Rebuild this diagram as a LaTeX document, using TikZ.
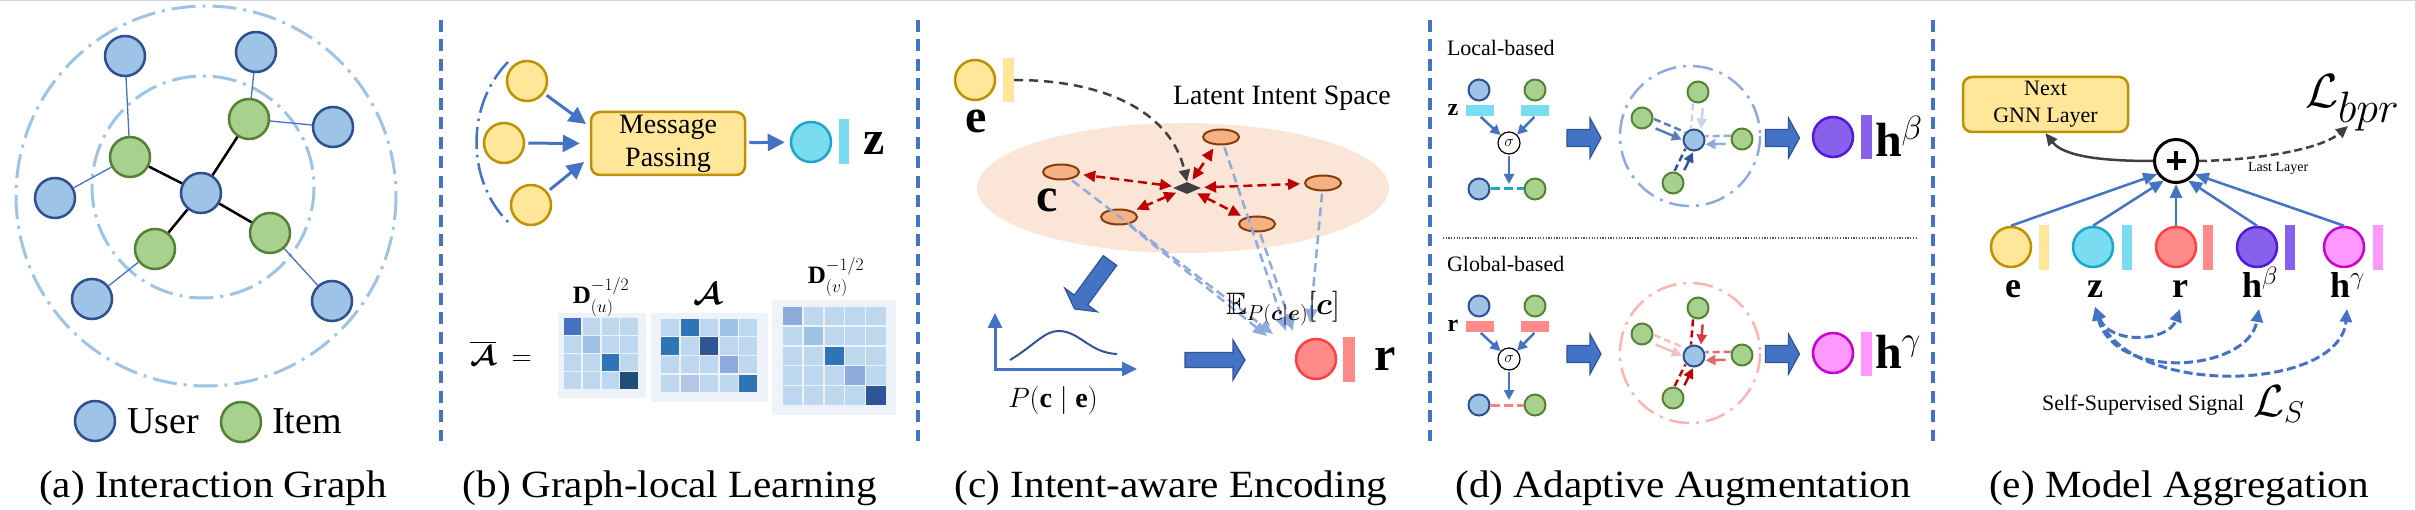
\RequirePackage{fix-cm}
\documentclass[tikz,border=0pt]{standalone}
\usepackage{fontspec}
\setmainfont{Liberation Serif}
\newfontfamily\tnr{Liberation Serif}
\usepackage{amsmath,amssymb,bm}
\usepackage{graphicx}
\usetikzlibrary{arrows.meta,shapes.geometric,calc}

\definecolor{bl}{HTML}{4472C4}
\definecolor{dbl}{HTML}{2F5597}
\definecolor{ufill}{HTML}{9DC3E6}
\definecolor{udraw}{HTML}{2F4F8F}
\definecolor{ifill}{HTML}{A9D18E}
\definecolor{idraw}{HTML}{538135}
\definecolor{yfill}{HTML}{FFE699}
\definecolor{ydraw}{HTML}{BF9000}
\definecolor{cfill}{HTML}{7ADCF0}
\definecolor{cdraw}{HTML}{1AA8C8}
\definecolor{rfill}{HTML}{FF8A8A}
\definecolor{rdraw}{HTML}{FF4040}
\definecolor{pfill}{HTML}{8860EC}
\definecolor{pdraw}{HTML}{4F1BD8}
\definecolor{mfill}{HTML}{FF99FF}
\definecolor{mdraw}{HTML}{CC00CC}
\definecolor{ringc}{HTML}{9DC3E6}
\definecolor{peach}{HTML}{FBE5D6}
\definecolor{intfill}{HTML}{F4B183}
\definecolor{ibrown}{HTML}{843C0C}
\definecolor{dred}{HTML}{C00000}
\definecolor{lbd}{HTML}{8FAADC}
\definecolor{dgray}{HTML}{404040}
\definecolor{mlight}{HTML}{BDD7EE}
\definecolor{mbg}{HTML}{EEF3FA}
\definecolor{mA}{HTML}{4472C4}
\definecolor{mB}{HTML}{9DC3E6}
\definecolor{mC}{HTML}{2E75B6}
\definecolor{mD}{HTML}{1F4E79}
\definecolor{mE}{HTML}{2F5597}
\definecolor{mF}{HTML}{8FAADC}
\definecolor{mG}{HTML}{B4C7E7}
\definecolor{pinkring}{HTML}{FFB3B3}
\definecolor{framegray}{HTML}{D6D6D6}
\definecolor{ltblue}{HTML}{C7D5EC}
\definecolor{mdblue}{HTML}{5B7DB8}
\definecolor{ltpink}{HTML}{F4BFBF}
\definecolor{mdred}{HTML}{E06A6A}
\definecolor{arred}{HTML}{D43D3D}
\definecolor{pinkline}{HTML}{FF8080}

\newcommand{\fsize}[1]{\tnr\fontsize{#1}{#1}\selectfont}
\newcommand{\bigbf}{\tnr\fontsize{48}{48}\selectfont\bfseries}
\newcommand{\captxt}[1]{\scalebox{1.07}[1]{\fsize{38.5}#1}}
% cx, cy, half length, head length, shaft half height, head half height
\newcommand{\blockarr}[6]{%
  \filldraw[fill=bl, draw=dbl, line width=1.2pt]
   (#1-#3,#2-#5) -- (#1+#3-#4,#2-#5) -- (#1+#3-#4,#2-#6) -- (#1+#3,#2)
   -- (#1+#3-#4,#2+#6) -- (#1+#3-#4,#2+#5) -- (#1-#3,#2+#5) -- cycle;}

\tikzset{
  nd/.style={circle, line width=2.5pt, minimum size=40pt, inner sep=0pt},
  user/.style={nd, draw=udraw, fill=ufill},
  item/.style={nd, draw=idraw, fill=ifill},
  yel/.style={nd, draw=ydraw, fill=yfill},
  cyn/.style={nd, draw=cdraw, fill=cfill},
  rdn/.style={nd, draw=rdraw, fill=rfill},
  ppn/.style={nd, draw=pdraw, fill=pfill},
  mgn/.style={nd, draw=mdraw, fill=mfill},
  suser/.style={user, minimum size=21pt, line width=2pt},
  sitem/.style={item, minimum size=21pt, line width=2pt},
  vbar/.style={rectangle, inner sep=0pt, minimum width=10pt, minimum height=44pt},
  hbar/.style={rectangle, inner sep=0pt, minimum width=28pt, minimum height=11pt},
  txt/.style={inner sep=0pt, outer sep=0pt},
  ybox/.style={rectangle, rounded corners=9pt, draw=ydraw, fill=yfill, line width=2.5pt, align=center, inner sep=0pt},
  ringline/.style={line width=3pt, dash pattern=on 24pt off 7pt on 3pt off 7pt},
  sepline/.style={draw=bl, line width=3.5pt, dash pattern=on 12pt off 7.5pt},
  thickarrow/.style={draw=bl, line width=3pt, -{Triangle[length=17pt,width=17pt]}},
  intent/.style={ellipse, draw=ibrown, fill=intfill, line width=2pt, minimum width=36pt, minimum height=15pt, inner sep=0pt},
  reddash/.style={draw=dred, line width=2.5pt, dash pattern=on 9pt off 5pt, {Triangle[length=12pt,width=11pt]}-{Triangle[length=12pt,width=11pt]}, shorten <=4pt, shorten >=4pt},
  lbdash/.style={draw=lbd, line width=2.5pt, dash pattern=on 9pt off 5pt, -{Triangle[length=14pt,width=12pt]}, shorten <=2pt},
  sig/.style={circle, draw=black, line width=1.2pt, fill=white, minimum size=22pt, inner sep=0pt, font=\fsize{16}},
  sarr/.style={draw=bl, line width=2.5pt, -{Triangle[length=10pt,width=10pt]}, shorten <=1pt},
  edash/.style={line width=2.5pt, dash pattern=on 7pt off 4pt},
  earr/.style={line width=2.5pt, -{Triangle[length=10pt,width=10pt]}, shorten <=5pt},
  plusn/.style={circle, draw=black, line width=3pt, fill=white, minimum size=43pt, inner sep=0pt,
    path picture={\draw[line width=3.5pt] ([xshift=-9.5pt]path picture bounding box.center) -- ([xshift=9.5pt]path picture bounding box.center);
                  \draw[line width=3.5pt] ([yshift=-9.5pt]path picture bounding box.center) -- ([yshift=9.5pt]path picture bounding box.center);}},
  aggarr/.style={draw=bl, line width=2.5pt, -{Triangle[length=14pt,width=12pt]}},
  ssarc/.style={draw=bl, line width=3pt, dash pattern=on 9pt off 4pt, {Triangle[length=13pt,width=12pt]}-{Triangle[length=13pt,width=12pt]}},
  dotsep/.style={draw=black!65, line width=1.2pt, dash pattern=on 1.2pt off 1.5pt}
}

\begin{document}
\begin{tikzpicture}[x=1pt,y=-1pt]
\useasboundingbox (0,0) rectangle (2416,510);
\draw[framegray, line width=1.5pt] (0,0.75) -- (2415.25,0.75) -- (2415.25,510);

% separators
\draw[sepline] (441,20) -- (441,441);
\draw[sepline] (918,20) -- (918,441);
\draw[sepline] (1430,20) -- (1430,441);
\draw[sepline] (1933,20) -- (1933,441);

% ---------------- (a) ----------------
\draw[ringline, draw=ringc] (206,196) circle[radius=190];
\draw[ringline, draw=ringc] (203,187) circle[radius=111];
\node[user] (a0) at (201,193) {};
\node[item] (i1) at (130,157) {};
\node[item] (i2) at (249,119) {};
\node[item] (i3) at (270,233) {};
\node[item] (i4) at (155,249) {};
\node[user] (u1) at (125,56) {};
\node[user] (u2) at (256,52) {};
\node[user] (u3) at (333,127) {};
\node[user] (u4) at (55,198) {};
\node[user] (u5) at (92,299) {};
\node[user] (u6) at (332,301) {};
\draw[line width=2.5pt] (a0) -- (i1) (a0) -- (i2) (a0) -- (i3) (a0) -- (i4);
\draw[bl, line width=1.3pt] (i1) -- (u1) (i1) -- (u4) (i2) -- (u2) (i2) -- (u3) (i3) -- (u6) (i4) -- (u5);
\node[user] (lu) at (95,421) {};
\node[txt, anchor=base west, font=\fsize{38}] (lut) at (127,433) {User};
\node[item] (li) at (241,422) {};
\node[txt, anchor=base west, font=\fsize{38}] (lit) at (272,433) {Item};
\node[txt, anchor=base] (capa) at (213,497) {\captxt{(a) Interaction Graph}};

% ---------------- (b) ----------------
\draw[bl, line width=2.5pt, dash pattern=on 22pt off 6pt on 2.5pt off 6pt] (508,62) .. controls (466,105) and (466,180) .. (508,222);
\node[yel] (y1) at (527,81) {};
\node[yel] (y2) at (504,143) {};
\node[yel] (y3) at (531,205) {};
\node[ybox, minimum width=154pt, minimum height=63pt, font=\tnr\fontsize{28}{33}\selectfont] (mp) at (668,143.5) {Message\\Passing};
\coordinate (mpa) at (586,124);
\coordinate (mpc) at (584,162);
\draw[thickarrow, shorten <=3pt] (y1) -- (mpa);
\draw[thickarrow, shorten <=3pt, shorten >=10pt] (y2) -- (mp.west);
\draw[thickarrow, shorten <=3pt] (y3) -- (mpc);
\node[cyn] (zn) at (811,142) {};
\draw[thickarrow, shorten <=3pt, shorten >=5pt] (mp) -- (zn);
\node[vbar, fill=cfill, minimum height=45pt] (zbar) at (844,141.5) {};
\node[txt, font=\bigbf] (zl) at (874,143) {z};

% matrices
\fill[mbg] (558,313) rectangle (646,398);
\foreach \row [count=\r from 0] in {{mA,mlight,mlight,mlight},{mlight,mB,mlight,mlight},{mlight,mlight,mC,mlight},{mlight,mlight,mlight,mD}}{
  \foreach \cc [count=\c from 0] in \row {
    \fill[\cc] (564+\c*18.75, 318+\r*18) rectangle ++(17.3,16.6);
  }
}
\fill[mbg] (651,313) rectangle (768,402);
\foreach \row [count=\r from 0] in {{mlight,mC,mlight,mB,mlight},{mC,mlight,mE,mlight,mlight},{mlight,mlight,mlight,mF,mlight},{mlight,mG,mlight,mlight,mC}}{
  \foreach \cc [count=\c from 0] in \row {
    \fill[\cc] (661+\c*19.5, 319+\r*18.5) rectangle ++(18,17);
  }
}
\fill[mbg] (772,300) rectangle (896,415);
\foreach \row [count=\r from 0] in {{mF,mlight,mlight,mlight,mlight},{mlight,mB,mlight,mlight,mlight},{mlight,mlight,mC,mlight,mlight},{mlight,mlight,mlight,mF,mlight},{mlight,mlight,mlight,mlight,mE}}{
  \foreach \cc [count=\c from 0] in \row {
    \fill[\cc] (783+\c*20.8, 307+\r*19.8) rectangle ++(19.3,18.3);
  }
}
\node[txt, font=\fsize{25}] (du) at (601,297) {$\mathbf{D}^{-1/2}_{(u)}$};
\node[txt, font=\fsize{31}] (am) at (708,294) {$\bm{\mathcal{A}}$};
\node[txt, font=\fsize{25}] (dv) at (836,277) {$\mathbf{D}^{-1/2}_{(v)}$};
\node[txt, font=\fsize{28}] (abar) at (501,353) {$\overline{\bm{\mathcal{A}}}\;=$};
\node[txt, anchor=base] (capb) at (670,497) {\captxt{(b) Graph-local Learning}};

% ---------------- (c) ----------------
\fill[peach] (1183,188) ellipse[x radius=206, y radius=65];
\node[yel] (en) at (975,80) {};
\node[vbar, fill=yfill, minimum width=11pt] (ebar) at (1008.5,80) {};
\node[txt, font=\bigbf] (el) at (976,121) {e};
\node[txt, anchor=base west, font=\fsize{28}] (lis) at (1173,105) {Latent Intent Space};
\node[intent] (c1) at (1061,172) {};
\node[intent] (c2) at (1221,137) {};
\node[intent] (c3) at (1323,183) {};
\node[intent] (c4) at (1119,217) {};
\node[intent] (c5) at (1257,224) {};
\node[diamond, fill=dgray, aspect=2.4, minimum width=28pt, minimum height=12pt, inner sep=0pt] (dia) at (1187,188) {};
\node[txt, font=\bigbf] (cl) at (1047,200) {c};
\draw[dgray, line width=2.5pt, dash pattern=on 9pt off 6pt, -{Triangle[length=12pt,width=11pt]}] (ebar.east) .. controls (1110,80) and (1172,115) .. (dia.north);
\draw[reddash] (dia) -- (c1);
\draw[reddash] (dia) -- (c2);
\draw[reddash] (dia) -- (c3);
\draw[reddash] (dia) -- (c4);
\draw[reddash] (dia) -- (c5);
\coordinate (ea1) at (1273,334);
\coordinate (ea4) at (1267,336);
\coordinate (ea2) at (1286,331);
\coordinate (ea5) at (1293,331);
\coordinate (ea3) at (1310,323);
\draw[lbdash] (c1) -- (ea1);
\draw[lbdash] (c4) -- (ea4);
\draw[lbdash] (c2) -- (ea2);
\draw[lbdash] (c5) -- (ea5);
\draw[lbdash] (c3) -- (ea3);
% block arrow down-left
\filldraw[fill=bl, draw=dbl, line width=1.2pt] (1116.7,265.4) -- (1087.7,304.9) -- (1097.2,311.8) -- (1074.5,308.9) -- (1064.8,288.2) -- (1074.3,295.1) -- (1103.3,255.6) -- cycle;
% plot
\coordinate (ax0) at (995,369);
\coordinate (axy) at (995,313);
\coordinate (axx) at (1137,369);
\draw[bl, line width=3pt, {Triangle[length=15pt,width=14pt]}-{Triangle[length=15pt,width=14pt]}] (axy) -- (ax0) -- (axx);
\draw[dbl, line width=2pt] (1010,360) .. controls (1035,345) and (1045,330) .. (1060,331) .. controls (1080,332) and (1090,353) .. (1117,354);
\node[txt, font=\fsize{28}] (pce) at (1053,400) {$P(\mathbf{c}\mid\mathbf{e})$};
\blockarr{1215}{360}{30}{12}{7.5}{20}
\node[rdn] (rn) at (1316,359) {};
\node[vbar, fill=rfill, minimum width=12pt, minimum height=45pt] (rbar) at (1349,359.5) {};
\node[txt, font=\bigbf] (rl) at (1385,359) {r};
\node[txt, anchor=base west, font=\fsize{31}] (ex) at (1226,315) {$\mathbb{E}_{P(\bm{c}|\bm{e})}[\bm{c}]$};
\node[txt, anchor=base] (capc) at (1171,497) {\captxt{(c) Intent-aware Encoding}};

% ---------------- (d) ----------------
\node[txt, anchor=base west, font=\fsize{22}] (lb) at (1447,56) {Local-based};
\node[suser] (lu1) at (1479,90) {};
\node[sitem] (lg1) at (1535,90) {};
\node[hbar, fill=cfill] (lzb1) at (1480,110.5) {};
\node[hbar, fill=cfill] (lzb2) at (1535,110.5) {};
\node[txt, font=\fsize{24}\bfseries] (lz) at (1453,110) {z};
\node[sig] (ls) at (1509,143) {$\sigma$};
\draw[sarr] (lzb1.south) -- (ls);
\draw[sarr] (lzb2.south) -- (ls);
\coordinate (lm) at (1509,184);
\draw[sarr] (ls) -- (lm);
\node[suser] (lu2) at (1479,189) {};
\node[sitem] (lg2) at (1535,189) {};
\draw[cdraw, line width=3pt, dash pattern=on 9pt off 4pt] (lu2) -- (lg2);
\blockarr{1584}{138}{17}{11}{8.5}{20}
\draw[ringline, draw=lbd, line width=2.5pt, dash pattern=on 20pt off 7pt on 3pt off 7pt] (1690,136) circle[radius=70];
\node[suser] (ac) at (1694,140) {};
\node[sitem] (ag1) at (1698,92) {};
\node[sitem] (ag2) at (1642,118) {};
\node[sitem] (ag3) at (1742,139) {};
\node[sitem] (ag4) at (1673,183) {};
\draw[edash, draw=ltblue, transform canvas={shift={(-4,0)}}] (ag1) -- (ac);
\draw[earr, draw=ltblue, transform canvas={shift={(6,0)}}] (ag1) -- (ac);
\draw[edash, draw=mdblue, transform canvas={shift={(1.4,-3.5)}}] (ag2) -- (ac);
\draw[earr, draw=mdblue, transform canvas={shift={(-1.6,4)}}] (ag2) -- (ac);
\draw[edash, draw=lbd, transform canvas={shift={(0,-3.5)}}] (ag3) -- (ac);
\draw[earr, draw=lbd, transform canvas={shift={(0,4.5)}}] (ag3) -- (ac);
\draw[edash, draw=dbl, transform canvas={shift={(-3.5,-1.7)}}] (ag4) -- (ac);
\draw[earr, draw=dbl, transform canvas={shift={(4,2)}}] (ag4) -- (ac);
\blockarr{1782.5}{138}{17}{11}{8.5}{20}
\node[ppn] (hb) at (1833,137) {};
\node[vbar, fill=pfill, minimum width=11pt] (hbbar) at (1866.5,137) {};
\node[txt, anchor=base west, font=\bigbf] (hbl) at (1875,157) {h$^{\beta}$};

\draw[dotsep] (1443,238) -- (1918,238);

\node[txt, anchor=base west, font=\fsize{22}] (gb) at (1447,272) {Global-based};
\node[suser] (gu1) at (1479,306) {};
\node[sitem] (gg1) at (1535,306) {};
\node[hbar, fill=rfill] (grb1) at (1480,326.5) {};
\node[hbar, fill=rfill] (grb2) at (1535,326.5) {};
\node[txt, font=\fsize{24}\bfseries] (gr) at (1453,326) {r};
\node[sig] (gs) at (1509,359) {$\sigma$};
\draw[sarr] (grb1.south) -- (gs);
\draw[sarr] (grb2.south) -- (gs);
\coordinate (gm) at (1509,400);
\draw[sarr] (gs) -- (gm);
\node[suser] (gu2) at (1479,405) {};
\node[sitem] (gg2) at (1535,405) {};
\draw[pinkline, line width=3pt, dash pattern=on 9pt off 4pt] (gu2) -- (gg2);
\blockarr{1584}{354}{17}{11}{8.5}{20}
\draw[ringline, draw=pinkring, line width=2.5pt, dash pattern=on 20pt off 7pt on 3pt off 7pt] (1690,353) circle[radius=70];
\node[suser] (bc) at (1694,356) {};
\node[sitem] (bg1) at (1698,308) {};
\node[sitem] (bg2) at (1642,334) {};
\node[sitem] (bg3) at (1742,355) {};
\node[sitem] (bg4) at (1673,398) {};
\draw[edash, draw=dred, transform canvas={shift={(-4,0)}}] (bg1) -- (bc);
\draw[earr, draw=arred, transform canvas={shift={(6,0)}}] (bg1) -- (bc);
\draw[edash, draw=ltpink, transform canvas={shift={(1.4,-3.5)}}] (bg2) -- (bc);
\draw[earr, draw=ltpink, transform canvas={shift={(-1.6,4)}}] (bg2) -- (bc);
\draw[edash, draw=mdred, transform canvas={shift={(0,-3.5)}}] (bg3) -- (bc);
\draw[earr, draw=mdred, transform canvas={shift={(0,4.5)}}] (bg3) -- (bc);
\draw[edash, draw=dred, transform canvas={shift={(-3.5,-1.7)}}] (bg4) -- (bc);
\draw[earr, draw=dred, transform canvas={shift={(4,2)}}] (bg4) -- (bc);
\blockarr{1782.5}{354}{17}{11}{8.5}{20}
\node[mgn] (hg) at (1833,353) {};
\node[vbar, fill=mfill, minimum width=11pt] (hgbar) at (1866.5,354) {};
\node[txt, anchor=base west, font=\bigbf] (hgl) at (1875,368) {h$^{\gamma}$};
\node[txt, anchor=base] (capd) at (1683,497) {\captxt{(d) Adaptive Augmentation}};

% ---------------- (e) ----------------
\node[ybox, minimum width=165pt, minimum height=55pt, font=\tnr\fontsize{22}{27}\selectfont] (nb) at (2045.5,104.5) {Next\\GNN Layer};
\node[plusn] (pl) at (2176,161) {};
\draw[dgray, line width=2.5pt, -{Triangle[length=12pt,width=11pt]}] (pl.west) .. controls (2110,161) and (2065,158) .. (nb.south);
\node[txt, anchor=base west, font=\fsize{48}] (lbpr) at (2305,108) {$\mathcal{L}_{\mbox{\fsize{44}$bpr$}}$};
\coordinate (lbprc) at (2348,126);
\draw[dgray, line width=2.5pt, dash pattern=on 8pt off 4pt, -{Triangle[length=12pt,width=11pt]}] (pl.east) .. controls (2255,160) and (2320,150) .. (lbprc);
\node[txt, anchor=base west, font=\fsize{14}] (ll) at (2248,172) {Last Layer};
\node[yel] (ne) at (2011,247) {};
\node[cyn] (nz) at (2093,247) {};
\node[rdn] (nr) at (2176,247) {};
\node[ppn] (nh1) at (2257,247) {};
\node[mgn] (nh2) at (2344,247) {};
\node[vbar, fill=yfill, minimum height=45pt] (neb) at (2044,247.5) {};
\node[vbar, fill=cfill, minimum height=45pt] (nzb) at (2127,247.5) {};
\node[vbar, fill=rfill, minimum height=45pt] (nrb) at (2208,247.5) {};
\node[vbar, fill=pfill, minimum height=45pt] (nh1b) at (2290,247.5) {};
\node[vbar, fill=mfill, minimum height=45pt] (nh2b) at (2378,247.5) {};
\draw[aggarr] (ne.north) -- (pl.215);
\draw[aggarr] (nz.north) -- (pl.238);
\draw[aggarr] (nr.north) -- (pl.south);
\draw[aggarr] (nh1.north) -- (pl.302);
\draw[aggarr] (nh2.north) -- (pl.325);
\node[txt, anchor=base west, font=\fsize{36}\bfseries] (le) at (2005,298) {e};
\node[txt, anchor=base west, font=\fsize{36}\bfseries] (lzz) at (2087,298) {z};
\node[txt, anchor=base west, font=\fsize{36}\bfseries] (lrr) at (2172,298) {r};
\node[txt, anchor=base west, font=\fsize{36}\bfseries] (lh1) at (2242,298) {h$^{\beta}$};
\node[txt, anchor=base west, font=\fsize{36}\bfseries] (lh2) at (2330,298) {h$^{\gamma}$};
\coordinate (sz) at (2095,307);
\coordinate (sr) at (2180,309);
\coordinate (shb) at (2259,309);
\coordinate (shg) at (2347,309);
\draw[ssarc] (sz) .. controls (2110,345) and (2168,342) .. (sr);
\draw[ssarc] (sz) .. controls (2115,382) and (2248,372) .. (shb);
\draw[ssarc] (sz) .. controls (2130,398) and (2340,392) .. (shg);
\node[txt, anchor=base west, font=\fsize{22}] (sss) at (2042,410) {Self-Supervised Signal};
\node[txt, anchor=base west, font=\fsize{45}] (ls2) at (2253,416) {$\mathcal{L}_{\mbox{\fsize{30}$S$}}$};
\node[txt, anchor=base] (cape) at (2179,497) {\captxt{(e) Model Aggregation}};
\end{tikzpicture}
\end{document}
